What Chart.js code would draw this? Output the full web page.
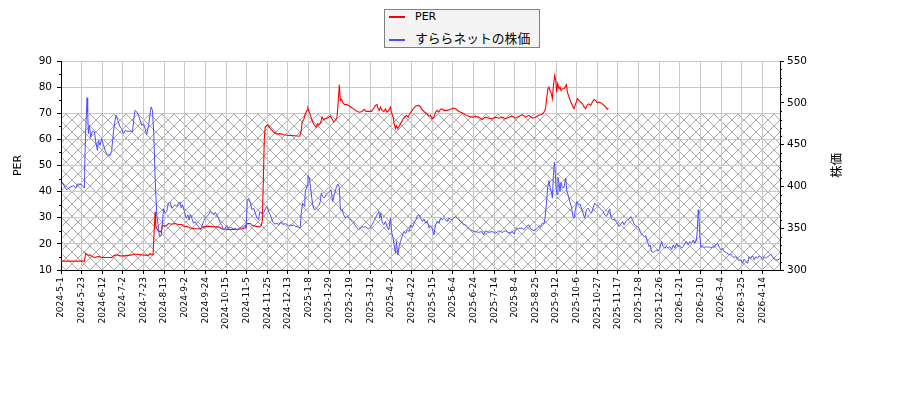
<!DOCTYPE html>
<html>
<head>
<meta charset="utf-8">
<title>PER と株価</title>
<script src="https://cdn.jsdelivr.net/npm/chart.js@4.4.1/dist/chart.umd.min.js"></script>
<style>
    html, body { margin: 0; padding: 0; background: #fff; }
    #wrap { position: relative; width: 900px; height: 400px; }
    #legend {
        position: absolute; left: 384px; top: 9px; width: 154px; height: 37px;
        border: 1px solid #808080; background: #f4f4f4;
        font-family: "DejaVu Sans", "Noto Sans CJK JP", sans-serif; color: #000;
    }
    #legend .item { position: absolute; left: 4px; height: 14px; line-height: 14px; white-space: nowrap; }
    #legend .swatch { display: inline-block; width: 16px; height: 2px; vertical-align: middle; margin-right: 10px; }
</style>
</head>
<body>
<div id="wrap">
    <canvas id="perChart"></canvas>
    <div id="legend">
        <div class="item" style="top:0px;font-size:11px;"><span class="swatch" style="background:#ff0000"></span>PER</div>
        <div class="item" style="top:21px;font-size:12.8px;font-family:'Noto Sans CJK JP',sans-serif;"><span class="swatch" style="background:#4d4dff"></span>すららネットの株価</div>
    </div>
</div>
<script>
// ===================
// PER と株価のグラフ
// ===================

// 目盛ラベル（営業日インデックス 14 日ごと）
const tickLabels = [
    '2024-5-1', '2024-5-23', '2024-6-12', '2024-7-2', '2024-7-23', '2024-8-13', '2024-9-2',
    '2024-9-24', '2024-10-15', '2024-11-5', '2024-11-25', '2024-12-13', '2025-1-8', '2025-1-29',
    '2025-2-19', '2025-3-12', '2025-4-2', '2025-4-22', '2025-5-15', '2025-6-4', '2025-6-24',
    '2025-7-14', '2025-8-4', '2025-8-25', '2025-9-12', '2025-10-6', '2025-10-27', '2025-11-17',
    '2025-12-8', '2025-12-26', '2026-1-21', '2026-2-10', '2026-3-4', '2026-3-25', '2026-4-14'
];
const TICK_STEP = 14;
const LAST_INDEX = 488;

const perRange = [10, 90];
const priceRange = [300, 550];
const hatchRange = [10, 70];

// [営業日インデックス, PER]
const perPoints = [
    [0,13.4],[15.9,13.4],[16.8,16.4],[17.7,16],[18.6,15.6],[19.7,15.8],[20.8,15.2],[23.1,14.8],[25.4,15.2],
    [27.6,14.8],[34.4,14.8],[36.2,15.6],[37.8,15.8],[40.1,15.4],[43.5,15.4],[48,15.8],[49.6,16.1],[54.8,15.8],
    [59.4,15.6],[60.5,16.3],[61.6,15.8],[62.5,16],[63.2,24.6],[63.9,32.3],[64.3,27],[65,25.9],[66.2,24.8],
    [68,24.8],[68.9,27.1],[70.2,26.8],[71.8,27.1],[72.9,27.8],[75.2,27.5],[77.5,27.8],[79.7,27.4],[82,27.4],
    [83.1,26.8],[85.4,26.7],[87.7,26.1],[91.1,25.8],[94.5,25.8],[96.7,26.5],[100.1,26.8],[103.5,26.5],
    [106.9,26.5],[109.2,25.8],[113.7,25.5],[118.3,25.5],[122.8,25.8],[125.1,26.1],[126.4,27.8],[128.5,27.8],
    [129.6,27.1],[131.9,26.8],[134.6,26.5],[135.9,27.1],[136.6,28.7],[137.3,43.7],[138,60.3],[138.6,64.7],
    [140.2,65.6],[142,64.3],[144.3,62.8],[146.6,62],[148.8,62.2],[151.1,61.8],[154.5,61.5],[156.8,61.5],
    [160.2,61.3],[162,61.2],[163.1,63.4],[163.6,66.5],[164.7,67.5],[165.8,69.8],[167,71.1],[167.6,72],
    [168.6,70.2],[169.7,68.5],[170.8,66.6],[171.9,65.6],[173.1,64.7],[174.2,66],[175.3,65.6],[176.5,66.9],
    [177.2,68.5],[178.3,67.6],[179.4,67.9],[180.5,68.1],[181.7,68.5],[182.8,68.9],[183.9,67.9],[185.1,66.6],
    [186.2,67.3],[187.3,68.5],[188,73],[188.9,80.9],[189.6,74.9],[190.3,75.4],[191.2,74.1],[192.6,73.3],
    [194.2,73.3],[195.7,72.8],[197.6,72],[199.3,71.4],[201,70.7],[202.5,70.4],[204.3,70.7],[205.9,71.5],
    [207.1,70.7],[208.9,70.7],[210.7,70.7],[212.3,72],[213.4,73],[214.5,73.3],[215.2,71.7],[216.1,71.1],
    [216.8,72.4],[217.9,71.1],[219.1,70.7],[220.2,71.7],[221.3,70.4],[222.5,71.1],[223.6,72.4],[224.3,70.2],
    [225.2,69.2],[226.1,66],[227,64.1],[227.7,65.3],[228.6,64.1],[229.8,65.3],[231.1,66.6],[232.2,67.9],
    [233.3,68.5],[234.5,69.2],[235.6,68.5],[236.7,69.8],[237.9,70.7],[239.5,72],[241,72.8],[242.8,73],
    [244,72.4],[245.1,71.4],[246.9,70.4],[248.5,69.8],[249.7,68.9],[250.8,69.2],[251.9,67.9],[253.1,68.5],
    [254.2,70.4],[255.3,71.1],[256.4,70.4],[257.6,71.5],[258.7,71.7],[259.8,71.1],[262.1,71.1],[264.3,71.5],
    [266.6,72],[268.4,71.5],[270,70.7],[272.3,70.2],[274.5,69.4],[276.8,68.8],[279.1,68.5],[281.4,68.8],
    [283.6,68.5],[285.9,67.6],[288.1,68.5],[290.4,68.1],[292.7,67.9],[294.9,68.5],[297.2,68.1],[299.5,68.5],
    [301.7,67.9],[304,68.5],[306.3,68.9],[308.5,68.1],[310.8,68.9],[313.1,69.4],[315.3,68.5],[317.6,69.2],
    [319.9,68.1],[322.2,68.5],[324,69.2],[325.6,69.4],[326.7,69.8],[327.8,70.4],[328.9,71.7],[329.6,75.6],
    [330.5,79.4],[331.2,80],[331.9,78.7],[332.8,77.5],[333.5,75.6],[334.2,80.6],[335.1,84.5],[335.8,82.6],
    [336.4,78.1],[337.1,81.3],[338,79.4],[338.7,80],[339.4,78.7],[340.3,79.4],[341.4,79.4],[342.1,80],
    [343,80.9],[343.7,78.1],[344.8,76.2],[346,74.3],[347.1,73],[348.2,71.7],[349.3,73.6],[350.5,75.6],
    [351.6,74.9],[352.7,74.3],[353.9,73.6],[355,72.4],[356.1,71.7],[357.3,73.3],[358.4,73.6],[359.5,73],
    [360.7,74.3],[361.8,75.3],[362.9,74.9],[364,74],[365.2,74.3],[366.3,74],[367.4,73.6],[368.6,73],
    [369.7,72.4],[370.8,71.5],[371.5,72]
];

// [営業日インデックス, 株価]
const pricePoints = [
    [0,399],[0.9,405],[2.7,399],[3.9,396],[6.1,399],[8.4,401],[10,398],[11.3,403],[14,402],[15.9,398],
    [16.3,441],[17,477],[17.7,506],[18.1,489],[18.6,463],[19.3,473],[20.2,459],[21.3,466],[22.7,465],
    [23.6,453],[24.7,443],[25.4,455],[26.5,449],[27.6,457],[28.8,450],[29.9,443],[31,439],[32.2,438],
    [33.3,437],[34.4,443],[35.6,465],[36.7,479],[37.4,485],[38.5,479],[40.1,471],[41.2,469],[42.4,463],
    [43.5,467],[44.6,466],[46.9,466],[48.5,466],[49.6,483],[50.3,491],[51.4,489],[52.6,485],[53.7,479],
    [54.8,473],[56,475],[57.1,469],[58.2,462],[59.4,473],[60.5,487],[61.2,495],[62.1,491],[63,461],
    [63.9,409],[65,366],[66.2,350],[66.8,340],[68,341],[68.9,358],[69.6,373],[70.7,368],[71.8,370],
    [72.9,380],[74.1,381],[75.2,374],[76.3,376],[77.5,378],[78.6,376],[79.7,380],[80.9,381],[81.6,374],
    [82.5,378],[83.8,370],[85,362],[86.1,366],[87,360],[87.7,366],[88.8,362],[89.9,356],[91.1,358],
    [92.2,354],[93.3,352],[94.7,348],[95.6,352],[96.7,358],[97.9,362],[99,364],[100.1,366],[101.3,370],
    [102.4,368],[103.5,366],[104.7,369],[105.8,366],[106.9,362],[108.1,356],[109.2,353],[110.3,348],
    [111.5,350],[112.6,353],[113.7,350],[114.9,351],[116,350],[117.1,349],[118.3,350],[119.4,348],
    [120.5,349],[121.7,350],[122.8,352],[123.9,351],[125.1,354],[125.7,350],[126.4,383],[127.3,386],
    [128.5,381],[129.6,372],[130.7,374],[131.9,368],[133,362],[134.1,360],[134.8,369],[135.9,369],
    [136.8,366],[137.7,369],[138.6,373],[139.8,376],[140.9,370],[142,366],[143.2,360],[144.3,356],
    [145.4,355],[146.6,356],[147.7,354],[148.8,357],[150,356],[151.1,354],[152.2,356],[153.4,354],
    [154.5,353],[155.6,354],[156.8,353],[157.9,354],[159,352],[160.2,352],[161.3,351],[162.4,351],
    [163.1,369],[164,380],[165.4,376],[165.8,394],[167,401],[167.6,413],[168.6,410],[169.7,394],
    [170.8,378],[171.9,372],[173.1,373],[174.2,376],[175.3,378],[176,382],[176.7,392],[177.6,388],
    [178.7,386],[179.9,390],[181,392],[182.1,394],[183.3,396],[184.4,382],[185.5,390],[186.7,398],
    [187.8,403],[188.9,399],[189.6,372],[190.8,372],[191.9,366],[193,362],[194.2,364],[195.3,362],
    [196.4,360],[197.6,358],[198.7,356],[199.8,353],[201,350],[202.1,348],[203.2,350],[204.3,352],
    [205.5,351],[206.6,352],[207.7,350],[208.9,349],[210,351],[211.1,354],[212.3,358],[213.4,362],
    [214.5,366],[215.7,370],[216.4,362],[217,368],[217.9,358],[219.1,354],[220.2,358],[221.3,352],
    [222.5,348],[223.6,362],[224.3,346],[225.2,340],[226.1,330],[227,320],[227.7,334],[228.6,318],
    [229.5,328],[230.4,334],[231.5,340],[232.7,346],[234,344],[235.1,348],[236.3,346],[237.4,354],
    [238.5,351],[239.6,356],[240.8,360],[241.9,365],[243,366],[244.1,362],[245.3,358],[246.4,361],
    [247.5,356],[248.7,358],[249.8,350],[250.9,353],[252,350],[253.1,342],[254.2,354],[255.3,358],
    [256.5,356],[257.6,362],[258.7,360],[259.8,362],[260.9,360],[262.1,358],[263.2,362],[264.3,361],
    [265.5,360],[266.6,362],[267.7,364],[268.9,362],[270,360],[271.2,358],[272.3,356],[273.4,354],
    [274.5,354],[275.7,352],[276.8,350],[277.9,348],[279,347],[281.3,346],[283.5,345],[285.8,346],
    [286.9,342],[288,347],[290.3,345],[292.7,346],[295,344],[297.2,347],[299.5,345],[301.8,347],
    [304,344],[306.3,346],[307.4,343],[308.5,348],[310.8,350],[313.1,350],[314.2,348],[315.3,351],
    [317.6,354],[318.8,349],[321,347],[323.3,350],[324.4,353],[325.6,352],[326.7,356],[327.8,355],
    [328.5,362],[329.4,378],[330.3,398],[331.2,407],[331.9,399],[332.8,394],[333.5,386],[334.2,413],
    [334.9,429],[335.3,421],[336,399],[336.7,390],[337.3,411],[338,404],[338.7,394],[339.4,405],
    [340.3,398],[341.4,399],[342.6,410],[343.2,396],[344.1,390],[345.3,382],[346.4,376],[347.5,364],
    [348.2,362],[349.3,374],[350.2,382],[351.2,378],[352.3,379],[353.2,374],[354.3,368],[355.5,362],
    [356.6,372],[357.7,374],[358.9,370],[360,368],[361.1,374],[362.3,380],[363.4,378],[364.5,376],
    [365.6,374],[366.8,372],[367.9,370],[369,366],[370.2,364],[371.3,368],[372.4,373],[373.4,362],
    [374.3,360],[375.4,361],[376.5,358],[377.7,356],[378.8,352],[379.9,355],[381.1,358],[382.2,354],
    [383.3,358],[384.5,360],[385.6,361],[386.7,364],[387.9,360],[389,355],[390.1,353],[391.3,352],
    [392.4,350],[393.5,344],[394.6,342],[395.8,340],[396.9,341],[398,334],[399.2,328],[399.9,330],
    [400.8,322],[401.9,321],[403.1,322],[404.2,324],[405.3,323],[406.5,326],[407.6,334],[408.7,328],
    [409.8,326],[411,328],[412.1,326],[413.2,328],[414.4,324],[415.5,330],[416.6,326],[417.8,332],
    [418.9,328],[420,329],[421.2,326],[422.3,328],[423.4,332],[424.6,334],[425.7,330],[426.8,334],
    [427.9,332],[429.1,336],[430.2,332],[431.3,336],[432,350],[432.5,372],[432.9,366],[433.6,340],
    [434.3,327],[435.5,328],[436.6,327],[437.7,328],[438.8,327],[440,328],[441.1,326],[442.2,328],
    [443.4,327],[444.5,330],[445.6,332],[446.8,327],[447.9,324],[449,326],[450.1,322],[451.3,321],
    [452.4,320],[453.5,318],[454.7,319],[455.8,316],[456.9,315],[458.1,316],[459.2,313],[460.3,311],
    [461.5,312],[462.6,308],[463.7,313],[464.8,310],[466,308],[467.1,316],[468.2,314],[469.4,317],
    [470.5,312],[471.6,316],[472.8,314],[473.9,317],[475,315],[476.2,313],[477.3,316],[478.4,314],
    [479.6,316],[480.7,317],[481.8,319],[482.9,316],[484.1,313],[485.2,312],[486.3,312],[487.5,313],
    [488,314]
];

const TICK_FONT = { family: 'DejaVu Sans', size: 10.5 };
const X_TICK_FONT = { family: 'DejaVu Sans', size: 9 };

function makeHatch(ctx) {
    const s = 12;
    const c = document.createElement('canvas');
    c.width = s;
    c.height = s;
    const g = c.getContext('2d');
    g.strokeStyle = 'rgba(140,140,140,0.75)';
    g.lineWidth = 1;
    g.beginPath();
    g.moveTo(0, 0); g.lineTo(s, s);
    g.moveTo(s, 0); g.lineTo(0, s);
    g.stroke();
    return ctx.createPattern(c, 'repeat');
}

// ハッチング帯（PER 10〜70）
const hatchPlugin = {
    id: 'hatchBand',
    beforeDraw(chart) {
        const { ctx, chartArea, scales } = chart;
        const yTop = scales.y.getPixelForValue(hatchRange[1]);
        const yBot = scales.y.getPixelForValue(hatchRange[0]);
        ctx.save();
        ctx.fillStyle = makeHatch(ctx);
        ctx.fillRect(chartArea.left, yTop, chartArea.right - chartArea.left, yBot - yTop);
        ctx.restore();
    }
};

// 補助目盛と右軸タイトル
const extrasPlugin = {
    id: 'axisExtras',
    afterDraw(chart) {
        const { ctx, chartArea, scales } = chart;
        ctx.save();
        ctx.strokeStyle = '#000';
        ctx.lineWidth = 1;
        ctx.beginPath();
        for (let v = perRange[0] + 5; v < perRange[1]; v += 10) {
            const y = Math.round(scales.y.getPixelForValue(v)) + 0.5;
            ctx.moveTo(chartArea.left - 2, y);
            ctx.lineTo(chartArea.left, y);
        }
        for (let v = priceRange[0] + 10; v < priceRange[1]; v += 10) {
            if (v % 50 === 0) continue;
            const y = Math.round(scales.y2.getPixelForValue(v)) + 0.5;
            ctx.moveTo(chartArea.right, y);
            ctx.lineTo(chartArea.right + 2, y);
        }
        ctx.stroke();

        ctx.fillStyle = '#000';
        ctx.font = '12.5px "Noto Sans CJK JP"';
        ctx.textAlign = 'center';
        ctx.textBaseline = 'middle';
        ctx.translate(836, (chartArea.top + chartArea.bottom) / 2);
        ctx.rotate(-Math.PI / 2);
        ctx.fillText('株価', 0, 0);
        ctx.restore();
    }
};

function renderChart() {
    const ctx = document.getElementById('perChart');

    new Chart(ctx, {
        type: 'line',
        data: {
            datasets: [
                {
                    label: 'PER',
                    data: perPoints.map(p => ({ x: p[0], y: p[1] })),
                    yAxisID: 'y',
                    borderColor: '#ff0000',
                    borderWidth: 1.1,
                    pointRadius: 0,
                    tension: 0,
                    fill: false,
                    order: 2
                },
                {
                    label: 'すららネットの株価',
                    data: pricePoints.map(p => ({ x: p[0], y: p[1] })),
                    yAxisID: 'y2',
                    borderColor: '#4d4dff',
                    borderWidth: 1,
                    pointRadius: 0,
                    tension: 0,
                    fill: false,
                    order: 1
                }
            ]
        },
        options: {
            responsive: true,
            maintainAspectRatio: false,
            animation: false,
            events: [],
            layout: { padding: { top: 61, left: 0, right: 0, bottom: 0 } },
            plugins: {
                legend: { display: false },
                tooltip: { enabled: false }
            },
            scales: {
                x: {
                    type: 'linear',
                    min: 0,
                    max: LAST_INDEX,
                    afterBuildTicks: (axis) => {
                        axis.ticks = tickLabels.map((_, i) => ({ value: i * TICK_STEP }));
                    },
                    afterFit: (axis) => { axis.height = 130; },
                    grid: { color: '#c8c8c8', lineWidth: 1, tickColor: '#000', tickLength: 4 },
                    border: { color: '#000', width: 1 },
                    ticks: {
                        autoSkip: false,
                        minRotation: 90,
                        maxRotation: 90,
                        padding: 3,
                        color: '#000',
                        font: X_TICK_FONT,
                        callback: (value) => tickLabels[Math.round(value / TICK_STEP)]
                    }
                },
                y: {
                    position: 'left',
                    min: perRange[0],
                    max: perRange[1],
                    afterFit: (axis) => { axis.width = 61; },
                    grid: { color: '#c8c8c8', lineWidth: 1, tickColor: '#000', tickLength: 4 },
                    border: { color: '#000', width: 1 },
                    ticks: { stepSize: 10, padding: 5, color: '#000', font: TICK_FONT },
                    title: {
                        display: true,
                        text: 'PER',
                        color: '#000',
                        font: { family: 'DejaVu Sans', size: 11 },
                        padding: { top: 12, bottom: 0 }
                    }
                },
                y2: {
                    position: 'right',
                    min: priceRange[0],
                    max: priceRange[1],
                    afterFit: (axis) => { axis.width = 120; },
                    grid: { drawOnChartArea: false, tickColor: '#000', tickLength: 4 },
                    border: { color: '#000', width: 1 },
                    ticks: { stepSize: 50, padding: 3, color: '#000', font: TICK_FONT }
                }
            }
        },
        plugins: [hatchPlugin, extrasPlugin]
    });
}

document.fonts.load('12px "Noto Sans CJK JP"').finally(renderChart);
</script>
</body>
</html>
